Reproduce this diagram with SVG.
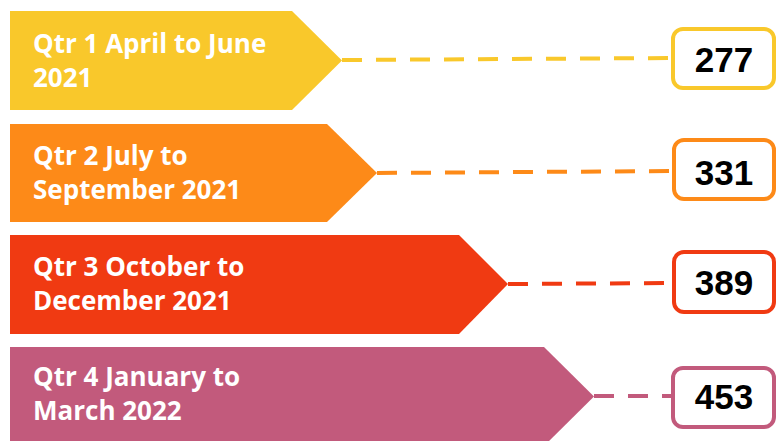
<svg xmlns="http://www.w3.org/2000/svg" width="776" height="441" viewBox="0 0 776 441">
<style>
.lbl{font-family:"Open Sans","Liberation Sans",sans-serif;font-weight:bold;font-size:26px;fill:#fff}
.num{font-family:"Liberation Sans",Arial,sans-serif;font-weight:bold;font-size:35px;fill:#000;text-anchor:middle}
.box{fill:#fff;stroke-width:4}
.dash{fill:none;stroke-width:4;stroke-dasharray:20 14}
</style>
<rect width="776" height="441" fill="#fff"/>
<g id="connectors">
<line class="dash" x1="342" y1="60" x2="673" y2="58" stroke="#F9C82B"/>
<line class="dash" x1="377" y1="173" x2="674" y2="171" stroke="#FD8A18"/>
<line class="dash" x1="508" y1="284" x2="674" y2="283" stroke="#F03A12"/>
<line class="dash" x1="594" y1="396" x2="673" y2="396" stroke="#C25A7C"/>
</g>
<g id="q1">
<polygon points="10,11 292,11 342,60.5 292,110 10,110" fill="#F9C82B"/>
<text class="lbl" x="33" y="53">Qtr 1 April to June</text>
<text class="lbl" x="33" y="87">2021</text>
</g>
<g id="q2">
<polygon points="10,124 327,124 377,173 327,222 10,222" fill="#FD8A18"/>
<text class="lbl" x="33" y="165">Qtr 2 July to</text>
<text class="lbl" x="33" y="199">September 2021</text>
</g>
<g id="q3">
<polygon points="10,235 459,235 508,284 459,334 10,334" fill="#F03A12"/>
<text class="lbl" x="33" y="276">Qtr 3 October to</text>
<text class="lbl" x="33" y="310">December 2021</text>
</g>
<g id="q4">
<polygon points="10,347 544,347 594,396.5 544,446 10,446" fill="#C25A7C"/>
<text class="lbl" x="33" y="386">Qtr 4 January to</text>
<text class="lbl" x="33" y="420">March 2022</text>
</g>
<g id="v1">
<rect class="box" x="673" y="29" width="101" height="59" rx="10" stroke="#F9C82B"/>
<text class="num" x="724" y="72">277</text>
</g>
<g id="v2">
<rect class="box" x="674" y="140" width="100" height="59" rx="10" stroke="#FD8A18"/>
<text class="num" x="724" y="185">331</text>
</g>
<g id="v3">
<rect class="box" x="674" y="252" width="100" height="60" rx="10" stroke="#F03A12"/>
<text class="num" x="724" y="295">389</text>
</g>
<g id="v4">
<rect class="box" x="673" y="368" width="101" height="59" rx="10" stroke="#C25A7C"/>
<text class="num" x="724" y="409">453</text>
</g>
</svg>
